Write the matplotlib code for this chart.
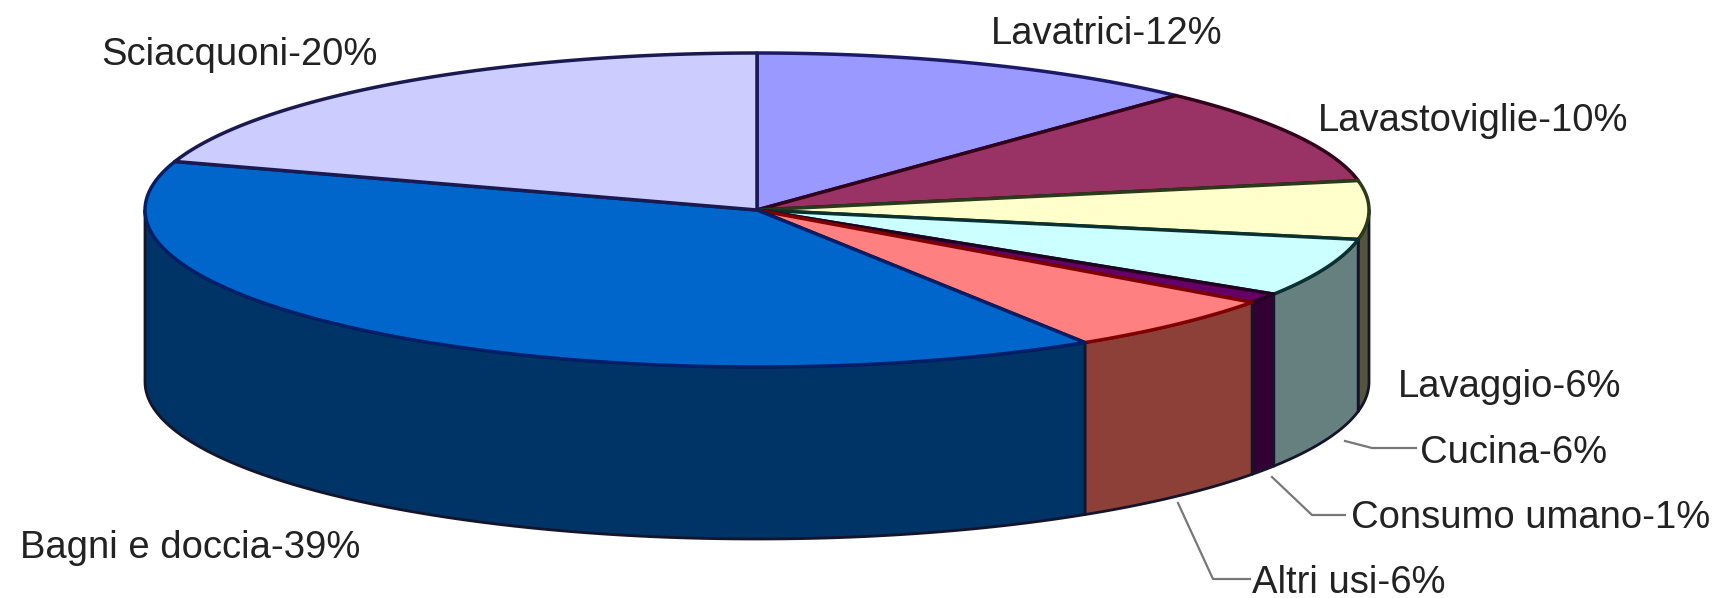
import numpy as np
import matplotlib
matplotlib.use('Agg')
import matplotlib.pyplot as plt

plt.rcParams['font.family'] = ['Liberation Sans', 'DejaVu Sans']

# values go clockwise from 12 o'clock
names = ['Lavatrici', 'Lavastoviglie', 'Lavaggio', 'Cucina',
         'Consumo umano', 'Altri usi', 'Bagni e doccia', 'Sciacquoni']
values = [12, 10, 6, 6, 1, 6, 39, 20]
top_colors = ['#9999FF', '#993366', '#FFFFCC', '#CCFFFF',
              '#660066', '#FF8080', '#0066CC', '#CCCCFF']
side_colors = ['#666699', '#4D1A33', '#55553F', '#668080',
               '#330033', '#8C4038', '#003366', '#666680']
edge_colors = ['#1A1A66', '#33001A', '#2A3A1A', '#0A3030',
               '#220022', '#800000', '#001F66', '#1A1A50']

# label text position, left edge and vertical centre in pixels
label_x = [991, 1318, 1398, 1420, 1351, 1252, 20, 101]
label_y = [34, 121, 387, 453, 518, 583, 548, 55]

# leader lines, pixels
cucina_line = ([1345, 1372, 1416], [441, 448, 448])
consumo_line = ([1272, 1312, 1345], [477, 515, 515])
altri_line = ([1178, 1213, 1250], [503, 579, 579])

# ellipse of the pie top, pixels
cx, cy = 757, 210
rx, ry = 612, 157
depth = 172


def arc(t0, t1, shift=0):
    t = np.radians(np.linspace(t0, t1, 100))
    return cx + rx * np.sin(t), cy - ry * np.cos(t) + shift


fig = plt.figure(figsize=(17.29, 5.98), dpi=100)
ax = fig.add_axes([0, 0, 1, 1])
ax.set_xlim(0, 1729)
ax.set_ylim(598, 0)
ax.axis('off')

edges = np.cumsum([0] + values) / sum(values) * 360

# side wall, only the front half of the pie shows
for i in range(len(values)):
    t0 = max(edges[i], 90)
    t1 = min(edges[i + 1], 270)
    if t1 <= t0:
        continue
    x1, y1 = arc(t0, t1)
    x2, y2 = arc(t1, t0, depth)
    ax.fill(np.r_[x1, x2], np.r_[y1, y2], facecolor=side_colors[i],
            edgecolor='#14142A', linewidth=2, joinstyle='round')

# top of the pie
for i in range(len(values)):
    x, y = arc(edges[i], edges[i + 1])
    ax.fill(np.r_[cx, x], np.r_[cy, y], facecolor=top_colors[i],
            edgecolor=edge_colors[i], linewidth=2.5, joinstyle='round')

for line in [cucina_line, consumo_line, altri_line]:
    ax.plot(line[0], line[1], color='#777777', linewidth=1.6)

for i in range(len(names)):
    ax.text(label_x[i], label_y[i], '%s-%d%%' % (names[i], values[i]),
            fontsize=27.5, color='#222222', ha='left', va='center')

fig.savefig('out.png', dpi=100)
